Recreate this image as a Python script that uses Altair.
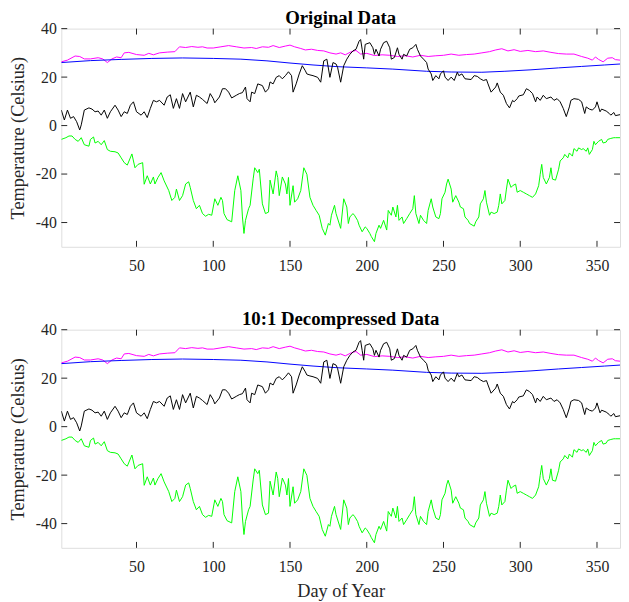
import altair as alt
import pandas as pd

# ---------------- data ----------------
mag_day = [1,5,10,13,16,20,25,28,31,34, 37,40,42,45,50,55,58,61,65,70,
           75,78,82,86,90,93,96,100,105,110, 115,120,125,128,132,136,139,143,147,150,
           153,157,160,164,168,172,176,180,183,186, 190,193,196,200,205,210,215,220,225,230,
           235,240,245,250,255,260,265,270,275,280, 284,288,292,296,300,305,310,315,320,325,
           330,335,340,344,347,349,351,354,357,360, 362,365]
mag_val = [26.3,27.0,28.7,28.5,27.5,27.5,28.0,27.5,26.0,27.5, 28.3,28.0,30.0,30.2,29.3,29.0,29.8,29.2,30.0,30.3,
           30.5,32.5,32.2,32.6,32.3,32.5,32.0,32.0,32.5,33.0, 32.5,32.0,32.2,31.8,32.5,32.3,33.0,32.2,32.8,33.2,
           32.5,31.8,31.2,31.5,31.0,30.8,30.0,29.5,30.0,29.2, 30.5,31.0,29.5,29.8,28.9,29.2,29.0,28.5,28.8,28.3,
           29.0,28.5,28.8,29.0,29.5,29.0,29.3,29.5,30.0,30.5, 31.2,31.7,30.8,31.3,30.6,31.0,30.5,30.8,30.2,29.7,
           29.5,29.5,28.5,27.8,27.0,28.3,27.3,26.3,27.8,28.0, 27.2,27.0]

blu_day = [1,20,40,60,80,100,118,135,150,165,181,200,217,239,255,275,290,307,325,340,355,365]
blu_val = [26.0,26.8,27.3,27.7,27.9,27.7,27.4,26.7,25.8,25.0,24.3,23.8,23.3,22.4,22.1,22.0,22.4,23.0,23.8,24.4,25.0,25.4]

blk_day = [1,3,5,7,9,11,13,14,16,19, 21,23,25,27,29,31,33,36,38,40, 42,44,46,48,50,53,55,57,59,61,
           63,65,68,70,72,74,76,78,80,82, 85,87,89,91,93,
           96,98,100,101,104,106,108,110,112,115, 117,119,121,122,124,125,127,129,132,134,
           136,137,139,141,143,145,147,149,151,152, 154,156,158,160,161,163,165,168,170,172, 174,176,178,180,
           181,183,185,187,189,191,193,195,196,197, 198,199,202,204,205,206,208,209,211,213,
           215,216,218,220,221,223,224,226,228,230, 232,233,235,237,239,240,242,243,245,247,
           248,250,251,253,255,257,259,260,262,264,
           268,270,272,274,276,278,279,281,284,285, 287,289,291,293,295,296,298,299,302,304,
           306,308,310,311,313,315,317,320,322,324, 326,328,330,332,333,335,338,340,342,343,
           345,347,349,350,352,353,356,358,359,361, 362,365]
blk_val = [6.4,2.3,6.4,3.0,3.7,1.6,-1.8,0.3,6.4,7.3, 6.8,5.7,6.0,4.3,6.4,3.0,5.7,8.4,6.4,3.7,
           5.7,5.0,8.4,9.8,5.7,4.3,5.7,3.3,7.1,10.4, 9.8,10.4,8.4,11.8,12.7,7.1,11.1,7.1,13.2,9.8,
           13.8,7.7,12.5,11.8,10.8,
           9.1,13.2,11.1,9.4,11.8,15.2,15.2,13.8,11.4,12.5, 13.2,13.6,15.9,11.1,9.8,13.8,13.2,17.2,16.5,13.8,
           15.2,18.0,17.2,19.9,20.6,19.3,20.6,22.2,20.6,13.8, 17.2,21.3,24.7,22.6,21.3,20.9,20.6,19.9,17.9,26.7,
           27.4,19.9,26.0,25.4,
           24.0,17.9,24.7,27.4,29.4,30.8,31.5,34.8,35.5,31.5, 27.4,33.5,34.2,32.1,29.4,31.5,28.7,31.5,34.2,34.8,
           32.1,27.4,28.1,32.1,29.4,27.4,29.4,28.7,31.5,32.1, 33.5,31.5,28.7,27.4,26.0,23.3,21.3,18.6,20.6,19.3,
           21.3,22.6,20.0,18.6,20.0,18.6,22.0,20.6,21.3,19.3,
           19.0,20.6,20.3,19.3,18.6,19.0,17.2,13.8,15.9,17.6, 13.8,12.5,9.1,7.3,10.4,9.8,11.1,12.2,12.7,15.2,
           14.5,13.2,9.8,11.8,10.4,12.5,11.1,11.8,10.4,11.1, 9.8,7.1,3.7,7.7,10.4,11.1,10.8,9.8,5.0,7.7,
           6.8,6.4,7.7,9.8,5.7,6.8,6.0,5.0,4.3,5.4, 4.1,4.5]

grn_day = [1,4,6,8,10,12,14,16,19,20, 22,23,25,27,29,31,33,36,38,40, 42,44,47,49,51,54,55,57,59,61,
           62,64,66,68,71,73,75,76,78,80, 82,84,85,87,89,91,93,
           95,97,99,101,103,105,106,107,109,112, 114,116,118,119,120,121,123,124,126,127,
           129,130,132,134,136,137,139,141,142,143, 145,147,148,149,150,152,153,155,157,159,
           161,163,165,167,169,171,173,175,176,177, 179,
           180,183,185,187,188,189,191,192,194,195, 197,199,200,202,203,205,206,208,209,211,
           213,214,216,217,219,220,221,223,224,226, 228,230,231,232,234,235,237,239,240,242,
           243,245,247,248,249,251,252,253,255,256, 258,260,261,263,264,
           266,267,270,271,273,274,276,277,278,280, 281,283,285,286,287,288,290,291,292,294,
           295,297,298,300,302,304,306,308,310,312, 313,314,315,317,319,320,321,323,325,326,
           328,329,331,332,334,335,337,338,340,341, 343,344,345,347,348,349,351,353,354,356,
           357,359,361,362,365]
grn_val = [-5.7,-5.0,-4.3,-4.3,-5.7,-6.5,-5.0,-7.9,-8.5,-5.7, -4.7,-7.2,-6.5,-7.9,-6.2,-9.9,-10.6,-10.8,-11.3,-13.3,
           -15.3,-16.3,-11.7,-17.4,-16.0,-15.3,-24.2,-20.7,-24.1,-21.2, -24.1,-21.4,-19.4,-22.8,-26.8,-30.9,-29.6,-26.2,-30.9,-28.9,
           -24.1,-23.2,-25.5,-30.9,-34.3,-32.9,-36.3,
           -37.4,-36.6,-37.0,-30.2,-32.9,-29.6,-30.9,-36.3,-38.8,-39.7, -26.8,-20.7,-26.8,-37.7,-44.5,-39.1,-34.3,-32.9,-22.0,-17.4,
           -19.4,-18.0,-32.3,-36.3,-35.7,-22.5,-28.2,-18.7,-21.4,-28.9, -21.2,-24.1,-28.2,-21.4,-32.9,-24.8,-31.6,-30.2,-26.8,-17.4,
           -20.1,-29.6,-32.9,-35.0,-37.0,-42.4,-45.2,-40.4,-41.1,-37.0, -32.9,
           -36.3,-42.4,-30.2,-33.6,-40.4,-37.7,-36.3,-37.0,-39.1,-41.1, -43.8,-41.8,-42.4,-44.5,-45.8,-47.9,-44.5,-41.1,-42.4,-39.1,
           -43.1,-35.0,-37.0,-33.6,-37.7,-32.9,-39.1,-37.7,-40.4,-38.4, -36.3,-34.3,-28.9,-36.3,-40.4,-37.0,-39.1,-40.4,-35.0,-30.2,
           -33.6,-37.7,-38.4,-36.3,-30.2,-27.5,-24.1,-22.1,-26.2,-31.6, -28.9,-31.6,-33.6,-34.3,-37.7,
           -39.1,-40.4,-41.5,-39.7,-37.7,-32.3,-30.2,-26.8,-31.6,-37.0, -35.7,-36.3,-35.7,-32.9,-28.2,-32.3,-30.9,-26.2,-22.1,-25.5,
           -24.8,-24.1,-27.5,-26.8,-27.5,-28.2,-28.9,-29.6,-28.2,-24.8, -20.1,-16.0,-21.4,-24.1,-21.4,-17.4,-22.1,-22.5,-18.0,-14.6,
           -13.3,-11.9,-13.3,-11.3,-12.6,-9.5,-10.6,-9.2,-9.9,-9.5, -10.6,-9.2,-11.9,-9.9,-6.5,-7.9,-6.5,-5.7,-7.2,-6.8,
           -5.7,-5.3,-5.0,-5.0,-5.0]

series_names = ["magenta", "blue", "black", "green"]
series_colors = ["#FF00FF", "#0000FF", "#000000", "#00FF00"]
x_ticks = [50, 100, 150, 200, 250, 300, 350]
y_ticks = [-40, -20, 0, 20, 40]
titles = ["Original Data", "10:1 Decompressed Data"]

assert len(mag_day) == len(mag_val)
assert len(blu_day) == len(blu_val)
assert len(blk_day) == len(blk_val)
assert len(grn_day) == len(grn_val)

rows = []
for name, days, vals in zip(series_names, [mag_day, blu_day, blk_day, grn_day],
                            [mag_val, blu_val, blk_val, grn_val]):
    for d, v in zip(days, vals):
        rows.append({"day": d, "temp": v, "series": name})
df = pd.DataFrame(rows)
xt = pd.DataFrame({"day": x_ticks})
yt = pd.DataFrame({"temp": y_ticks})

W, H = 566, 221
FONT = "Liberation Serif"
AX = "#262626"
TL = 6

xscale = alt.Scale(domain=[1, 365], nice=False, zero=False)
yscale = alt.Scale(domain=[-50, 40], nice=False, zero=False)


def panel(title, last):
    xaxis = alt.Axis(values=x_ticks, ticks=False, tickSize=0, domain=False, grid=False,
                     labelFont=FONT, labelFontSize=16, labelColor=AX, labelPadding=11,
                     titleFont=FONT, titleFontSize=18.5, titleFontWeight="normal",
                     titleColor=AX, titlePadding=7)
    yaxis = alt.Axis(values=y_ticks, ticks=False, tickSize=0, domain=False, grid=False,
                     labelFont=FONT, labelFontSize=16, labelColor=AX, labelPadding=5,
                     labelExpr="'' + datum.value",
                     titleFont=FONT, titleFontSize=18.5, titleFontWeight="normal",
                     titleColor=AX, titlePadding=8)
    xtitle = "Day of Year" if last else None
    ytitle = "Temperature (Celsius)"
    X = lambda: alt.X("day:Q", scale=xscale, axis=xaxis, title=xtitle)
    Y = lambda: alt.Y("temp:Q", scale=yscale, axis=yaxis, title=ytitle)
    lines = alt.Chart(df).mark_line(strokeWidth=1, clip=True).encode(
        x=X(), y=Y(),
        color=alt.Color("series:N", scale=alt.Scale(domain=series_names, range=series_colors),
                        legend=None),
        order="day:Q",
    )
    tx_top = alt.Chart(xt).mark_rule(color=AX, strokeWidth=1).encode(
        x=X(), y=alt.value(0), y2=alt.value(TL))
    tx_bot = alt.Chart(xt).mark_rule(color=AX, strokeWidth=1).encode(
        x=X(), y=alt.value(H - TL), y2=alt.value(H))
    ty_left = alt.Chart(yt).mark_rule(color=AX, strokeWidth=1).encode(
        y=Y(), x=alt.value(0), x2=alt.value(TL))
    ty_right = alt.Chart(yt).mark_rule(color=AX, strokeWidth=1).encode(
        y=Y(), x=alt.value(W - TL), x2=alt.value(W))
    ttl = alt.Chart(pd.DataFrame({"title": [title]})).mark_text(
        font=FONT, fontSize=19, fontWeight="bold", color="#000000",
        align="center", baseline="top",
    ).encode(text="title:N", x=alt.value(W / 2), y=alt.value(-20))
    return alt.layer(lines, tx_top, tx_bot, ty_left, ty_right, ttl).properties(
        width=W, height=H)


chart = alt.vconcat(panel(titles[0], False), panel(titles[1], True), spacing=35).properties(
    padding={"left": 0, "top": -4, "right": 0, "bottom": 0}
).configure_view(stroke=AX, strokeWidth=1).configure(background="white")

chart.save("out.html", embed_options={"renderer": "svg", "actions": False})
